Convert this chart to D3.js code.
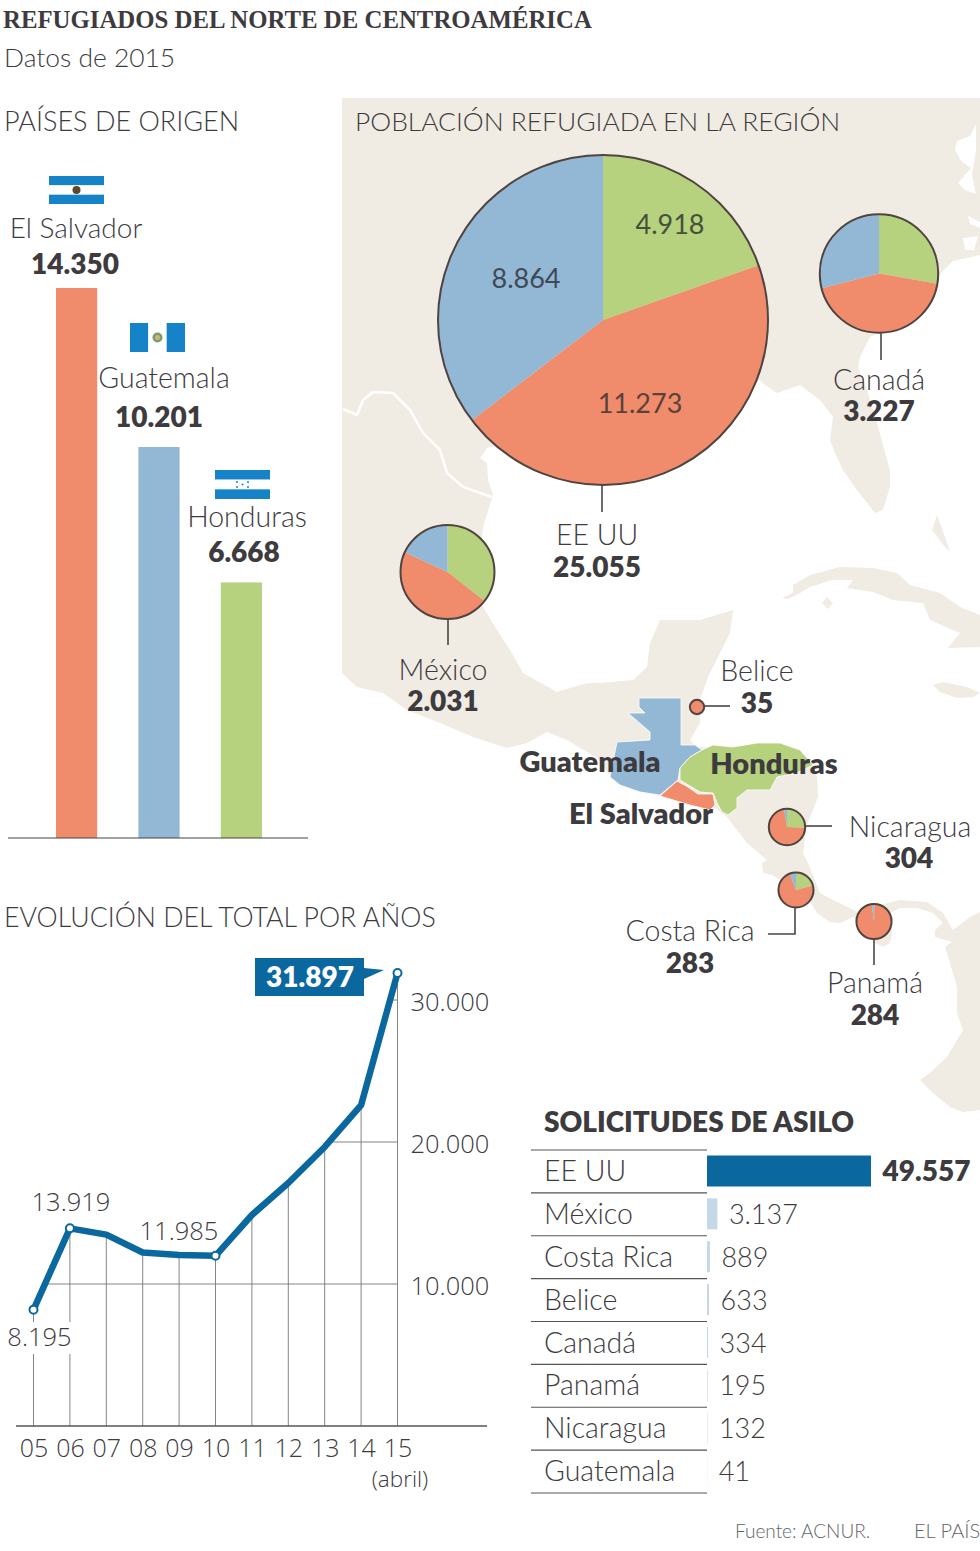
<!DOCTYPE html>
<html lang="es">
<head>
<meta charset="utf-8">
<title>Refugiados del norte de Centroamérica</title>
<script src="https://cdn.jsdelivr.net/npm/d3@7"></script>
<style>
  html, body { margin: 0; padding: 0; background: #fff; }
  svg { display: block; }
</style>
</head>
<body>
<div id="chart"></div>
<script>
// origin countries
const originNames = ["El Salvador", "Guatemala", "Honduras"];
const originValues = [14350, 10201, 6668];

// pies: green = Honduras, salmon = El Salvador, blue = Guatemala
const pieNames = ["EE UU", "Canadá", "México", "Belice", "Nicaragua", "Costa Rica", "Panamá"];
const pieTotals = [25055, 3227, 2031, 35, 304, 283, 284];
const pieHonduras = [4918, 896, 722, 0, 78, 59, 1];
const pieSalvador = [11273, 1394, 942, 35, 218, 208, 277];
const pieGuatemala = [8864, 937, 367, 0, 8, 16, 6];

// yearly total
const years = ["05", "06", "07", "08", "09", "10", "11", "12", "13", "14", "15"];
const yearTotals = [8195, 13919, 13480, 12218, 12040, 11985, 14860, 17110, 19650, 22600, 31897];
const yearTicks = [10000, 20000, 30000];
const labelledYears = ["05", "06", "10", "15"];

// asylum requests
const asylumNames = ["EE UU", "México", "Costa Rica", "Belice", "Canadá", "Panamá", "Nicaragua", "Guatemala"];
const asylumValues = [49557, 3137, 889, 633, 334, 195, 132, 41];

// base map outlines, traced by hand in page pixels
const landMain = [[342,98],[980,98],[980,255],[953,261],[936,278],[905,305],[880,332],[870,337],[860,357],[858,367],[867,390],[877,423],[890,470],[890,487],[883,510],[875,513],[857,490],[843,470],[835,453],[830,440],[833,417],[820,400],[800,385],[777,393],[765,385],[760,380],[700,400],[600,440],[488,447],[480,458],[487,463],[488,480],[493,495],[483,527],[480,570],[483,607],[497,630],[510,650],[523,673],[557,692],[587,683],[600,683],[633,680],[647,667],[650,643],[660,620],[700,620],[733,610],[730,633],[713,667],[708,677],[700,700],[700,723],[690,740],[697,747],[780,745],[813,765],[817,777],[818,797],[807,825],[803,853],[808,863],[820,893],[833,900],[860,913],[880,905],[900,900],[927,902],[943,913],[953,930],[970,917],[980,912],[980,1110],[963,1112],[950,1107],[933,1093],[920,1080],[930,1073],[947,1057],[963,1030],[957,1013],[957,987],[947,953],[945,947],[952,942],[935,937],[935,930],[943,923],[933,913],[917,908],[900,908],[890,913],[892,935],[890,943],[883,947],[875,943],[865,925],[853,917],[840,923],[830,922],[827,920],[817,913],[807,897],[790,885],[772,875],[763,873],[762,863],[767,860],[747,843],[727,817],[715,808],[690,805],[660,796],[633,790],[613,780],[597,758],[567,740],[547,732],[527,743],[507,748],[473,737],[440,723],[407,710],[383,693],[357,687],[342,673]];
const cuba = [[782,598],[793,593],[793,585],[810,575],[840,567],[873,568],[897,573],[910,585],[940,593],[960,607],[980,615],[980,647],[948,648],[960,633],[930,620],[923,603],[893,600],[873,592],[847,588],[853,580],[832,580],[810,587],[800,593],[788,599]];
const juventud = [[822,603],[827,597],[833,603],[828,609]];
const jamaica = [[933,685],[943,682],[967,687],[980,693],[973,697],[957,698],[940,692]];
const andros = [[937,515],[945,537],[950,552],[945,547],[932,530]];
const inlets = [
  [[976,124],[970,136],[957,141],[955,150],[962,162],[971,168],[958,183],[965,190],[976,194],[972,175],[976,150]],
  [[968,216],[980,222],[980,228],[970,224]],
  [[963,238],[978,236],[974,250],[965,250]]
];
const usBorder = [[343,409],[357,415],[363,400],[373,392],[393,393],[410,410],[423,433],[440,450],[447,473],[463,487],[492,497]];
const guatemalaShape = [[639,698],[681,698],[681,745],[695,745],[702,750],[690,757],[680,768],[678,780],[660,795],[640,792],[620,785],[610,777],[617,742],[650,740],[650,732],[628,713],[645,713],[639,707]];
const hondurasShape = [[702,750],[713,745],[733,747],[757,743],[780,743],[800,750],[813,765],[797,773],[777,777],[770,790],[747,790],[737,798],[737,808],[728,815],[722,812],[717,803],[713,793],[700,792],[680,780],[680,768],[690,757]];
const salvadorShape = [[677,781],[688,787],[698,794],[713,794],[715,805],[710,810],[690,805],[660,796]];

const SALMON = "#f08c6c", BLUE = "#93b8d6", GREEN = "#b6d27e", LAND = "#f0ebe3";
const DARK = "#3e3b3f", NAVY = "#0b689f";
const SANS = "Lato, sans-serif";

const svg = d3.select("#chart").append("svg").attr("width", 980).attr("height", 1551);

function label(x, y, txt, size, opts) {
  opts = opts || {};
  return svg.append("text")
    .attr("x", x).attr("y", y)
    .attr("font-family", opts.family || SANS)
    .attr("font-size", size)
    .attr("font-weight", opts.bold ? 800 : (opts.family ? 400 : 300))
    .attr("text-anchor", opts.anchor || "middle")
    .attr("fill", opts.fill || DARK)
    .text(txt);
}

const es = d3.formatLocale({ decimal: ",", thousands: ".", grouping: [3], currency: ["", "€"] });
const num = es.format(",d");

// ---- base map
const outline = d3.line();
const map = svg.append("g");
[landMain, cuba, juventud, jamaica, andros].forEach(p => {
  map.append("path").attr("d", outline(p) + "Z").attr("fill", LAND);
});
inlets.forEach(p => map.append("path").attr("d", outline(p) + "Z").attr("fill", "#fff"));
map.append("path").attr("d", outline(usBorder)).attr("fill", "none").attr("stroke", "#fff").attr("stroke-width", 2.5);
[[guatemalaShape, BLUE], [hondurasShape, GREEN], [salvadorShape, SALMON]].forEach(d => {
  map.append("path").attr("d", outline(d[0]) + "Z").attr("fill", d[1]).attr("stroke", "#fff").attr("stroke-width", 0.8);
});

// ---- titles
label(3, 28, "REFUGIADOS DEL NORTE DE CENTROAMÉRICA", 24.8, { anchor: "start", bold: true, family: "'Liberation Serif', serif" });
label(4, 67, "Datos de 2015", 26.4, { anchor: "start" });
label(4, 131, "PAÍSES DE ORIGEN", 27, { anchor: "start" });
label(355, 131, "POBLACIÓN REFUGIADA EN LA REGIÓN", 26.4, { anchor: "start" });
label(4, 927, "EVOLUCIÓN DEL TOTAL POR AÑOS", 26.7, { anchor: "start" });

// ---- origin bars
const barX = d3.scaleBand().domain(originNames).range([56, 262]).paddingInner(0.5).paddingOuter(0);
const barY = d3.scaleLinear().domain([0, 14350]).range([838, 288]);
svg.selectAll("rect.origin").data(originNames).enter().append("rect")
  .attr("class", "origin")
  .attr("x", d => barX(d))
  .attr("y", (d, i) => barY(originValues[i]))
  .attr("width", barX.bandwidth())
  .attr("height", (d, i) => barY(0) - barY(originValues[i]))
  .attr("fill", (d, i) => [SALMON, BLUE, GREEN][i]);
svg.append("line").attr("x1", 8).attr("x2", 308).attr("y1", 838).attr("y2", 838).attr("stroke", "#444").attr("stroke-width", 1.2);

label(76, 238, originNames[0], 28);
label(75, 274, num(originValues[0]), 28, { bold: true });
label(164, 388, originNames[1], 28.5);
label(159, 427, num(originValues[1]), 28, { bold: true });
label(247, 527, originNames[2], 28.5);
label(244, 562, num(originValues[2]), 28, { bold: true });

// flags
function stripes(x, y, w, h, vertical) {
  const g = svg.append("g");
  for (let i = 0; i < 3; i++) {
    g.append("rect")
      .attr("x", vertical ? x + i * w / 3 : x)
      .attr("y", vertical ? y : y + i * h / 3)
      .attr("width", vertical ? w / 3 : w)
      .attr("height", vertical ? h : h / 3)
      .attr("fill", i === 1 ? "#fff" : "#1682c8");
  }
  return g;
}
stripes(49, 176, 55, 28, false);
svg.append("circle").attr("cx", 76.5).attr("cy", 190).attr("r", 4).attr("fill", "#5b4a2a");
stripes(130, 323, 55, 29, true);
svg.append("circle").attr("cx", 157.5).attr("cy", 337.5).attr("r", 5).attr("fill", "#7d9a6a");
svg.append("circle").attr("cx", 157.5).attr("cy", 337.5).attr("r", 2.5).attr("fill", "#c9b77a");
stripes(215, 470, 55, 29, false);
[[237, 482], [237, 487], [242.5, 484.5], [248, 482], [248, 487]].forEach(p => {
  svg.append("circle").attr("cx", p[0]).attr("cy", p[1]).attr("r", 1).attr("fill", "#1682c8");
});

// ---- pies
const pieRadius = d3.scaleSqrt().domain([0, 25055]).range([0, 165]);
const pieLayout = d3.pie().sort(null).value(d => d);
const pieSpots = [[603, 320], [879, 273.5], [447.5, 572], [697, 707], [787, 827], [796, 890], [874, 921.5]];
const leaders = [
  [[602, 485], [602, 512]],
  [[881, 333], [881, 360]],
  [[448, 619], [448, 645]],
  [[704, 706], [730, 706]],
  [[805, 826], [832, 826]],
  [[795, 908], [795, 934], [768, 934]],
  [[874, 939], [874, 965]]
];
leaders.forEach(p => {
  svg.append("path").attr("d", outline(p)).attr("fill", "none").attr("stroke", "#4a4648").attr("stroke-width", 1.6);
});
pieNames.forEach((name, i) => {
  const r = pieRadius(pieTotals[i]) + (name === "Belice" ? 1 : 0);
  const g = svg.append("g").attr("transform", `translate(${pieSpots[i]})`);
  const arc = d3.arc().innerRadius(0).outerRadius(r);
  g.selectAll("path").data(pieLayout([pieHonduras[i], pieSalvador[i], pieGuatemala[i]])).enter().append("path")
    .attr("d", arc)
    .attr("fill", (d, j) => [GREEN, SALMON, BLUE][j]);
  g.append("circle").attr("r", r).attr("fill", "none").attr("stroke", "#4f4440").attr("stroke-width", 2);
});

label(670, 234, num(pieHonduras[0]), 27, { fill: "#46503c" }).attr("font-weight", 400);
label(526, 288, num(pieGuatemala[0]), 27, { fill: "#3f4a58" }).attr("font-weight", 400);
label(640, 413, num(pieSalvador[0]), 27, { fill: "#5a4238" }).attr("font-weight", 400);

const pieLabels = [[597, 545, 597, 577], [879, 390, 879, 421], [443, 680, 443, 711], [757, 681, 757, 713], [910, 837, 909, 868], [690, 941, 690, 973], [875, 993, 875, 1025]];
pieNames.forEach((name, i) => {
  const p = pieLabels[i];
  label(p[0], p[1], name, 28.5);
  label(p[2], p[3], num(pieTotals[i]), 28, { bold: true });
});

label(590, 772, "Guatemala", 29, { bold: true });
label(774, 774, "Honduras", 29, { bold: true });
label(641, 824, "El Salvador", 29, { bold: true });

// ---- yearly line
const x = d3.scalePoint().domain(years).range([33.5, 397.5]);
const y = d3.scaleLinear().domain([0, 30000]).range([1426, 1000]);
const OPEN = "'Open Sans', sans-serif";

// x where the line crosses a given value, gridlines start from there
function crossing(v) {
  for (let i = 1; i < years.length; i++) {
    const a = yearTotals[i - 1], b = yearTotals[i];
    if (a <= v && b >= v) return x(years[i - 1]) + (v - a) / (b - a) * (x(years[i]) - x(years[i - 1]));
  }
  return x(years[0]);
}
svg.selectAll("line.vgrid").data(years).enter().append("line")
  .attr("class", "vgrid")
  .attr("x1", d => x(d)).attr("x2", d => x(d))
  .attr("y1", 1426).attr("y2", (d, i) => y(yearTotals[i]))
  .attr("stroke", "#777").attr("stroke-width", 0.9);
svg.selectAll("line.hgrid").data(yearTicks).enter().append("line")
  .attr("class", "hgrid")
  .attr("x1", d => crossing(d)).attr("x2", x("15"))
  .attr("y1", d => y(d)).attr("y2", d => y(d))
  .attr("stroke", "#777").attr("stroke-width", 0.9);

const xAxis = svg.append("g").attr("transform", "translate(0,1426)")
  .call(d3.axisBottom(x).tickSize(0).tickPadding(13));
xAxis.select(".domain").remove();
xAxis.selectAll("text").attr("font-family", OPEN).attr("font-size", 25).attr("font-weight", 300).attr("fill", DARK);
svg.append("line").attr("x1", 16).attr("x2", 487).attr("y1", 1426).attr("y2", 1426).attr("stroke", "#555").attr("stroke-width", 1.4);

const yAxis = svg.append("g").attr("transform", "translate(397.5,0)")
  .call(d3.axisRight(y).tickValues(yearTicks).tickFormat(num).tickSize(0).tickPadding(13));
yAxis.select(".domain").remove();
yAxis.selectAll("text").attr("font-family", OPEN).attr("font-size", 25.5).attr("font-weight", 300).attr("fill", DARK).attr("dy", "0.42em");

const yearLine = d3.line().x((d, i) => x(years[i])).y(d => y(d));
svg.append("path").attr("d", yearLine(yearTotals)).attr("fill", "none").attr("stroke", NAVY).attr("stroke-width", 6.5).attr("stroke-linejoin", "round");
svg.selectAll("circle.mark").data(labelledYears).enter().append("circle")
  .attr("class", "mark")
  .attr("cx", d => x(d))
  .attr("cy", d => y(yearTotals[years.indexOf(d)]))
  .attr("r", 4).attr("fill", "#fff").attr("stroke", NAVY).attr("stroke-width", 2);

svg.append("rect").attr("x", 5).attr("y", 1322).attr("width", 68).attr("height", 32).attr("fill", "#fff");
label(39.5, 1346, num(yearTotals[0]), 25.5, { family: OPEN }).attr("font-weight", 300);
label(71, 1211, num(yearTotals[1]), 25.5, { family: OPEN }).attr("font-weight", 300);
label(179, 1240, num(yearTotals[5]), 25.5, { family: OPEN }).attr("font-weight", 300);
label(400, 1487, "(abril)", 22.5, { family: OPEN }).attr("font-weight", 300);

svg.append("rect").attr("x", 255).attr("y", 958).attr("width", 109).attr("height", 38).attr("fill", NAVY);
svg.append("path").attr("d", outline([[364, 968], [384, 970], [364, 979]]) + "Z").attr("fill", NAVY);
label(310, 987, num(yearTotals[10]), 28, { bold: true, fill: "#fff" });

// ---- asylum table
label(544, 1132, "SOLICITUDES DE ASILO", 28, { anchor: "start", bold: true });
const rowY = d3.scaleBand().domain(asylumNames).range([1150, 1493]);
const asylumX = d3.scaleLinear().domain([0, 49557]).range([707, 871]);

svg.selectAll("line.row").data(d3.range(asylumNames.length + 1)).enter().append("line")
  .attr("class", "row")
  .attr("x1", 531).attr("x2", 707)
  .attr("y1", i => 1150 + i * rowY.bandwidth())
  .attr("y2", i => 1150 + i * rowY.bandwidth())
  .attr("stroke", "#555").attr("stroke-width", 1.2);
svg.selectAll("rect.asylum").data(asylumNames).enter().append("rect")
  .attr("class", "asylum")
  .attr("x", 707)
  .attr("y", d => rowY(d) + 5.5)
  .attr("width", (d, i) => asylumX(asylumValues[i]) - 707)
  .attr("height", 31)
  .attr("fill", (d, i) => i === 0 ? NAVY : "#c5d8e8");
asylumNames.forEach((name, i) => {
  label(544, rowY(name) + 31, name, 28.5, { anchor: "start" });
  label(asylumX(asylumValues[i]) + 11.5, rowY(name) + 31, num(asylumValues[i]), i === 0 ? 28 : 27, { anchor: "start", bold: i === 0 });
});

label(735, 1538, "Fuente: ACNUR.", 19, { anchor: "start", fill: "#666" });
label(914, 1538, "EL PAÍS", 20, { anchor: "start", fill: "#666" });
</script>
</body>
</html>
